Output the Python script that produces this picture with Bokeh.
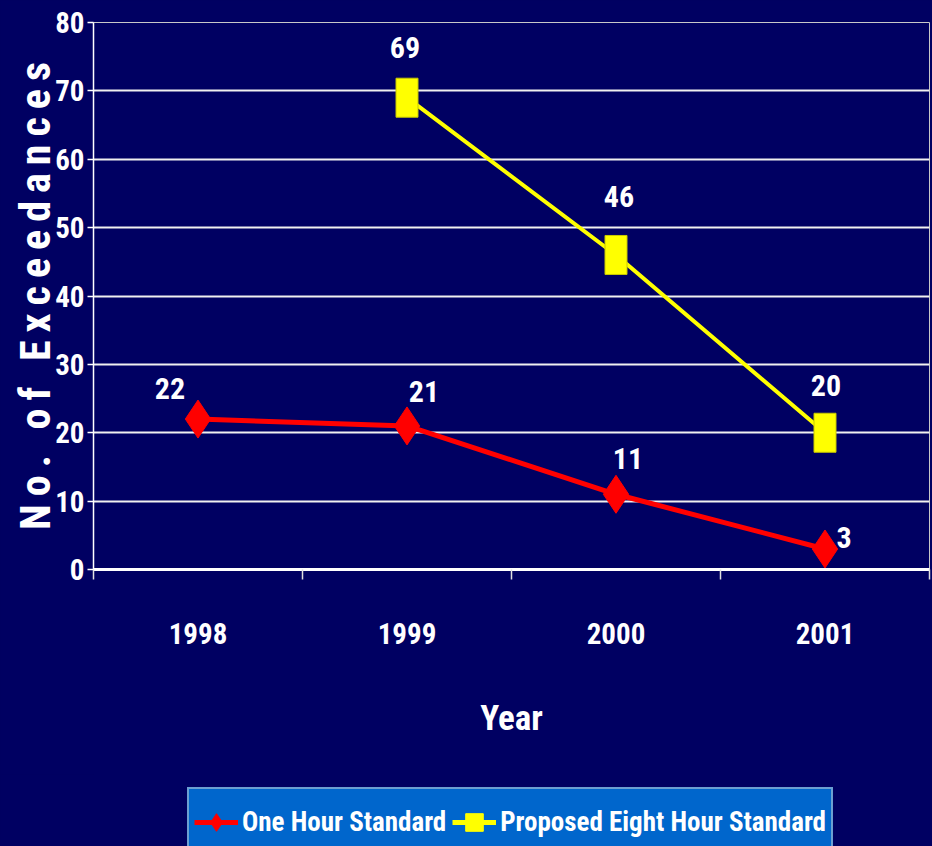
import math
from bokeh.plotting import figure
from bokeh.layouts import column
from bokeh.models import (ColumnDataSource, FixedTicker, Legend, LegendItem, Range1d)
from bokeh.core.properties import value
from bokeh.embed import file_html
from bokeh.resources import INLINE

# ---- data ----
years = ["1998", "1999", "2000", "2001"]
one_hour = [22, 21, 11, 3]
eight_hour = [None, 69, 46, 20]
y_ticks = [0, 10, 20, 30, 40, 50, 60, 70, 80]
series_names = ["One Hour Standard", "Proposed Eight Hour Standard"]
x_title = "Year"
y_title = "No. of Exceedances"

# ---- styling ----
BG = "#000062"
FONT = ("'Roboto Condensed', 'Liberation Sans Narrow', 'Open Sans Condensed', "
        "'DejaVu Sans Condensed', sans-serif")
RED = "#ff0000"
YELLOW = "#ffff00"

# label offsets (screen px) for the value labels
oh_dx = [-28, 17, 12, 19]
oh_dy = [-31, -34, -36, -11]
eh_dx = [0, -2, 3, 1]
eh_dy = [0, -50, -58, -47]

pos = [i + 0.5 for i in range(len(years))]

MAIN_H = 774
p = figure(width=932, height=MAIN_H, output_backend="svg", toolbar_location=None,
           x_range=(0, len(years)), y_range=(y_ticks[0], y_ticks[-1]),
           min_border_left=93, min_border_right=3, min_border_top=22,
           min_border_bottom=MAIN_H - 569)
p.background_fill_color = BG
p.border_fill_color = BG
p.outline_line_color = "#c8c8c8"
p.outline_line_width = 1

# grid
p.xgrid.grid_line_color = None
p.ygrid.grid_line_color = "#f0f0f0"
p.ygrid.grid_line_width = 2

# x axis: labels at category centres, tick marks at boundaries
p.xaxis.ticker = FixedTicker(ticks=pos, minor_ticks=list(range(len(years) + 1)))
p.xaxis.major_label_overrides = {v: y for v, y in zip(pos, years)}
p.xaxis.major_tick_line_color = None
p.xaxis.major_tick_out = 0
p.xaxis.major_tick_in = 0
p.xaxis.minor_tick_line_color = "#e0e0e0"
p.xaxis.minor_tick_line_width = 1.5
p.xaxis.minor_tick_out = 10
p.xaxis.minor_tick_in = 0
p.xaxis.axis_line_color = "white"
p.xaxis.axis_line_width = 3
p.xaxis.major_label_text_color = "white"
p.xaxis.major_label_text_font = FONT
p.xaxis.major_label_text_font_style = "bold"
p.xaxis.major_label_text_font_size = "29px"
p.xaxis.major_label_standoff = 43
p.xaxis.axis_label = x_title
p.xaxis.axis_label_text_color = "white"
p.xaxis.axis_label_text_font = FONT
p.xaxis.axis_label_text_font_style = "bold"
p.xaxis.axis_label_text_font_size = "35px"
p.xaxis.axis_label_standoff = 51

# y axis
p.yaxis.ticker = FixedTicker(ticks=y_ticks, minor_ticks=[])
p.yaxis.axis_line_color = "white"
p.yaxis.axis_line_width = 1.5
p.yaxis.major_tick_line_color = "white"
p.yaxis.major_tick_line_width = 1.5
p.yaxis.major_tick_out = 6
p.yaxis.major_tick_in = 0
p.yaxis.minor_tick_line_color = None
p.yaxis.major_label_text_color = "white"
p.yaxis.major_label_text_font = FONT
p.yaxis.major_label_text_font_style = "bold"
p.yaxis.major_label_text_font_size = "29px"
p.yaxis.major_label_standoff = 3
p.yaxis.axis_label = "\u2009".join(y_title.replace(" ", "\u00a0"))
p.yaxis.axis_label_text_color = "white"
p.yaxis.axis_label_text_font = FONT
p.yaxis.axis_label_text_font_style = "bold"
p.yaxis.axis_label_text_font_size = "42px"
p.yaxis.axis_label_standoff = -8

# series
src_oh = ColumnDataSource(dict(x=pos, y=one_hour, t=[str(v) for v in one_hour],
                               dx=oh_dx, dy=oh_dy))
eh_x = [x for x, v in zip(pos, eight_hour) if v is not None]
eh_y = [v for v in eight_hour if v is not None]
eh_dx2 = [d for d, v in zip(eh_dx, eight_hour) if v is not None]
eh_dy2 = [d for d, v in zip(eh_dy, eight_hour) if v is not None]
src_eh = ColumnDataSource(dict(x=eh_x, y=eh_y, t=[str(v) for v in eh_y],
                               dx=eh_dx2, dy=eh_dy2))

p.line("x", "y", source=src_oh, line_color=RED, line_width=5)
p.scatter("x", "y", source=src_oh, marker="diamond", size=38,
          fill_color=RED, line_color=RED)
p.line("x", "y", source=src_eh, line_color=YELLOW, line_width=4)
p.rect("x", "y", source=src_eh, width=22, height=39, width_units="screen",
       height_units="screen", fill_color=YELLOW, line_color="#c8c800")

for src in (src_oh, src_eh):
    p.text("x", "y", text="t", source=src, x_offset="dx", y_offset="dy",
           text_align="center", text_baseline="middle", text_color="white",
           text_font=value(FONT), text_font_style="bold", text_font_size="30px")

# ---- legend strip ----
LEG_H = 846 - MAIN_H
lg = figure(width=932, height=LEG_H, output_backend="svg", toolbar_location=None,
            x_range=Range1d(0, len(years)), y_range=Range1d(y_ticks[0], y_ticks[-1]),
            x_axis_location=None, y_axis_location=None, min_border=0)
lg.background_fill_color = BG
lg.border_fill_color = BG
lg.outline_line_color = None
lg.grid.visible = False

l1 = lg.line("x", "y", source=src_oh, line_color=RED, line_width=5, visible=False)
m1 = lg.scatter("x", "y", source=src_oh, marker="diamond", size=38,
                fill_color=RED, line_color=RED, visible=False)
l2 = lg.line("x", "y", source=src_eh, line_color=YELLOW, line_width=5, visible=False)
m2 = lg.scatter("x", "y", source=src_eh, marker="square", size=20,
                fill_color=YELLOW, line_color=YELLOW, visible=False)

legend = Legend(items=[LegendItem(label=series_names[0], renderers=[l1, m1]),
                       LegendItem(label=series_names[1], renderers=[l2, m2])],
                orientation="horizontal", location=(94, -11),
                background_fill_color="#0066cc", background_fill_alpha=1,
                border_line_color="#d8d8d8", border_line_width=2,
                label_text_color="white", label_text_font=FONT,
                label_text_font_style="bold", label_text_font_size="27px",
                glyph_width=44, glyph_height=56, label_standoff=4,
                spacing=6, padding=5, margin=0)
lg.add_layout(legend)

layout = column(p, lg, spacing=0, styles={"background-color": BG})
open("out.html", "w").write(file_html(layout, INLINE))
